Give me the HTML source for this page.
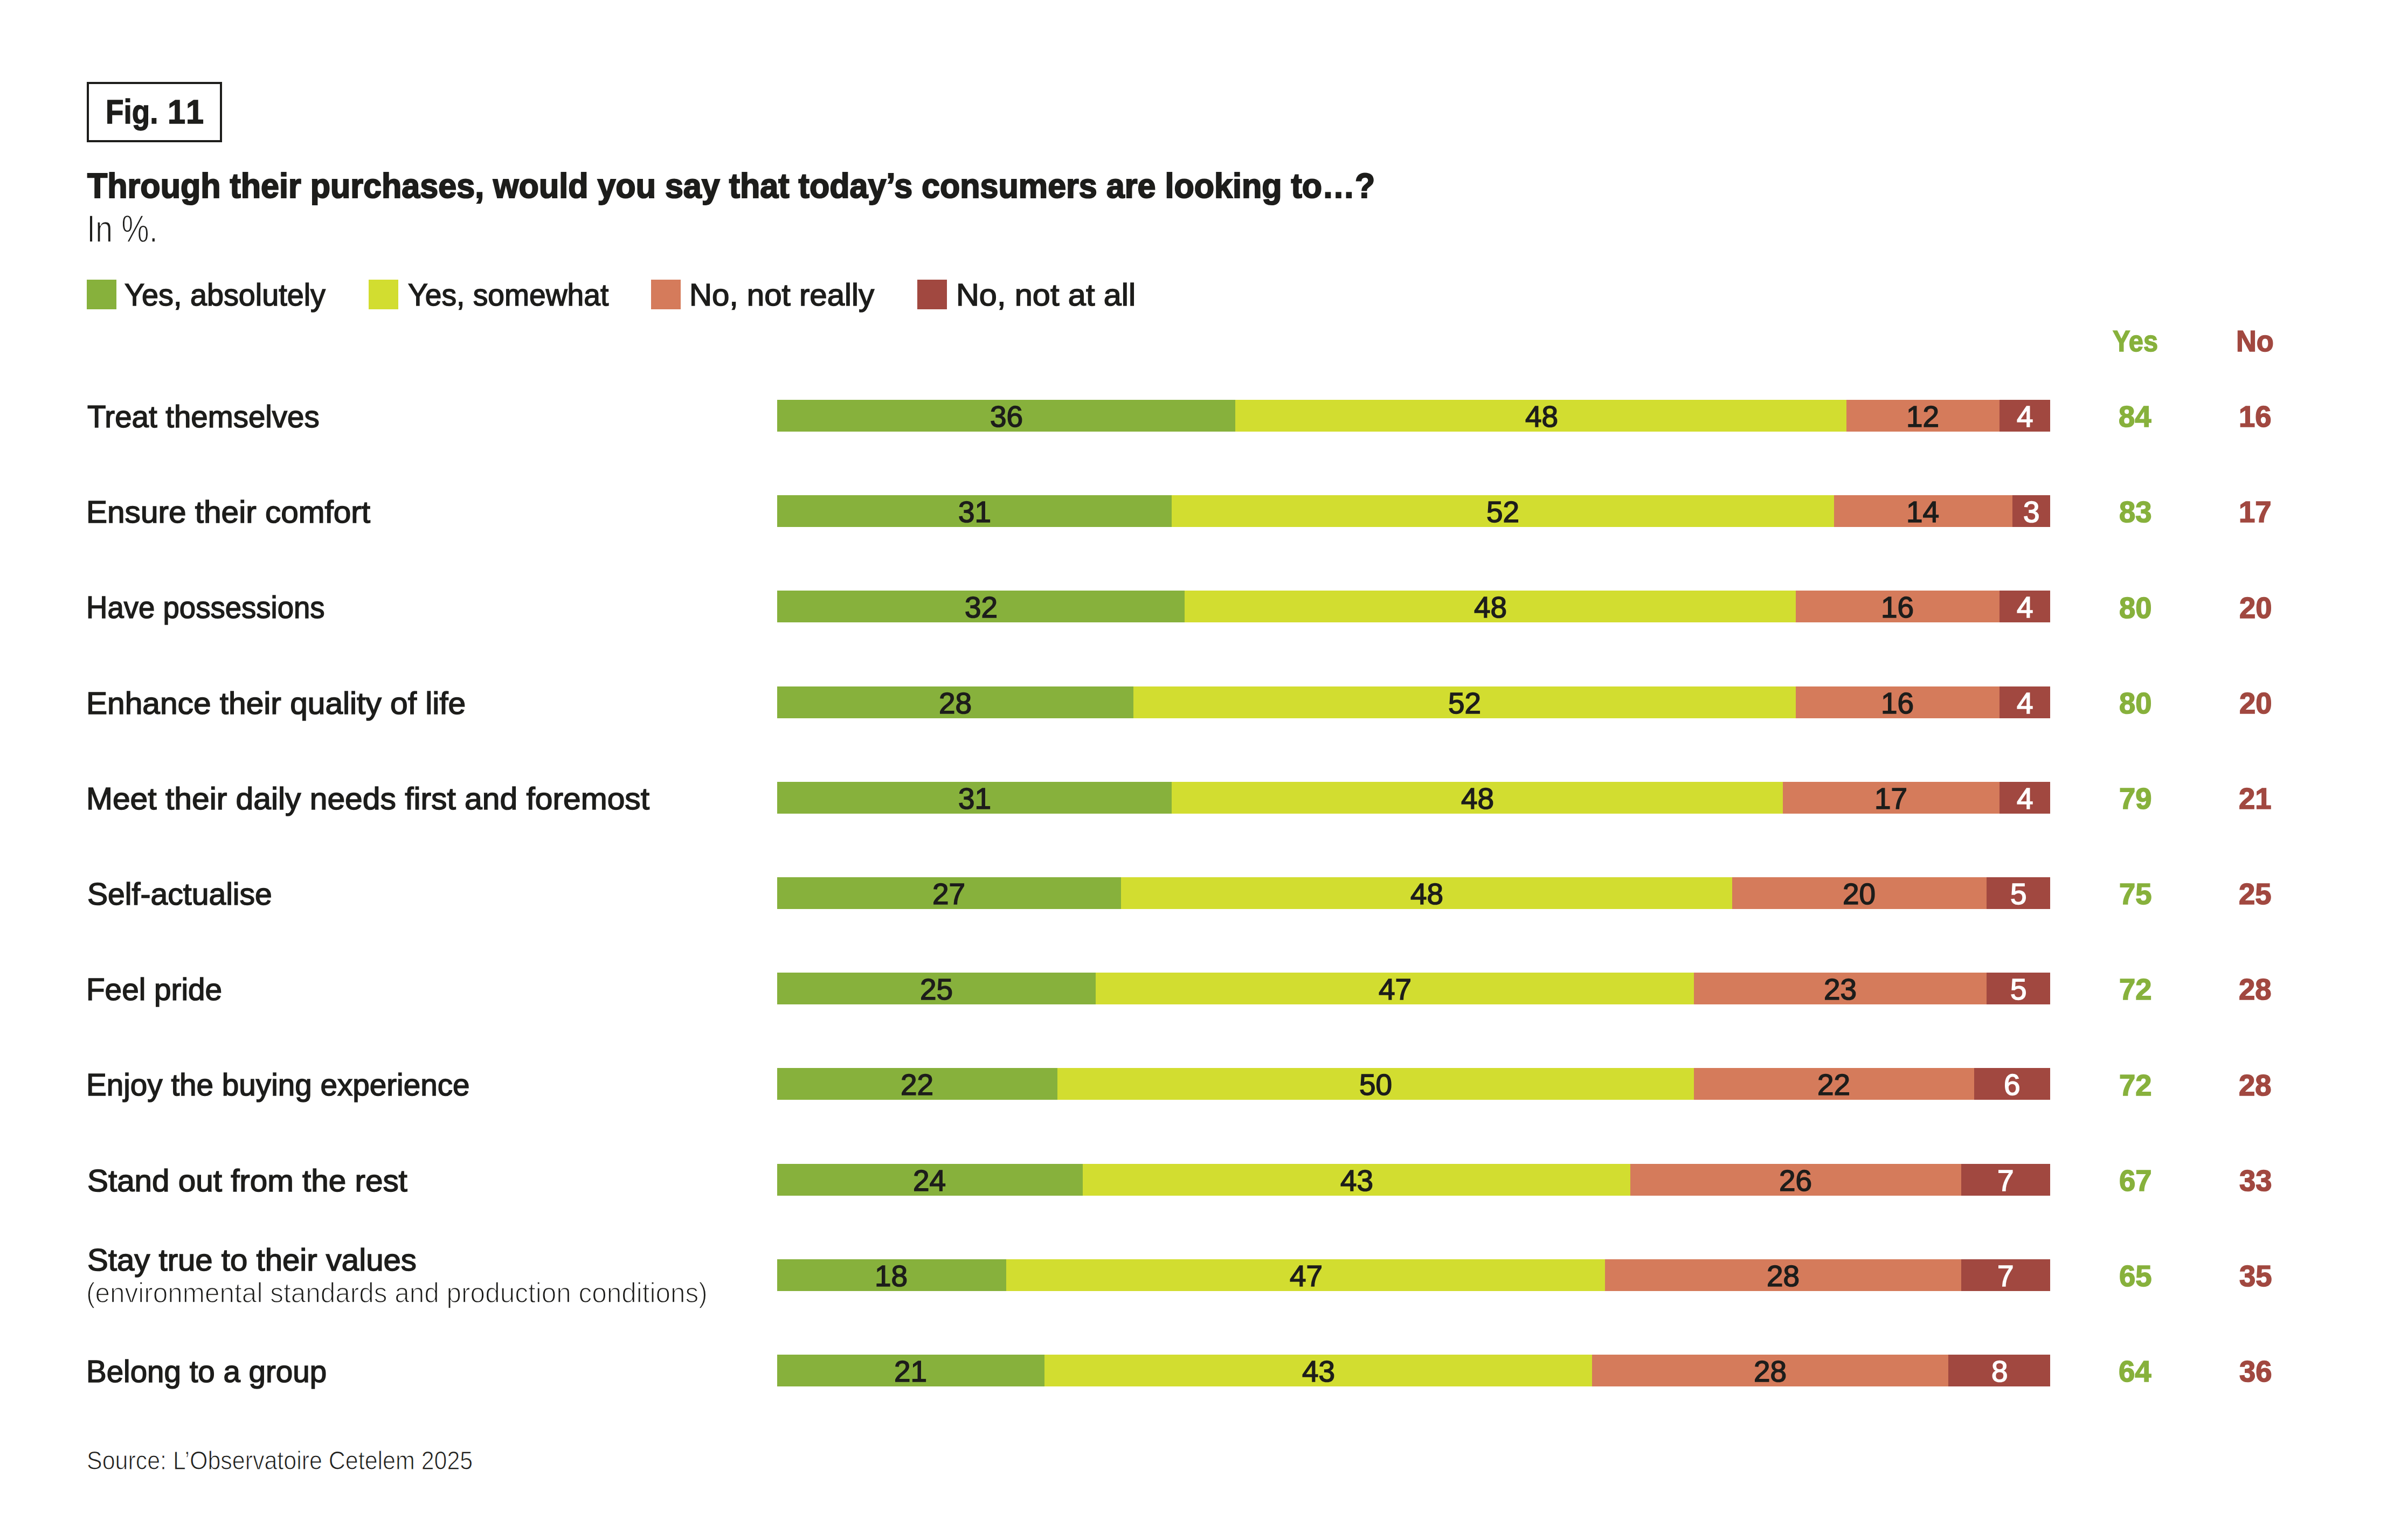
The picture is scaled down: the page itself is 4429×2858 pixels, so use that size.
<!DOCTYPE html>
<html><head><meta charset="utf-8"><title>Fig. 11</title>
<style>
html,body{margin:0;padding:0;background:#fff;}
body{width:4429px;height:2858px;position:relative;overflow:hidden;font-family:"Liberation Sans",sans-serif;}
.t{position:absolute;white-space:nowrap;line-height:1;transform-origin:0 0;display:block;}
.r{position:absolute;}
.box{position:absolute;left:161px;top:152px;width:251px;height:112px;box-sizing:border-box;border:4px solid #1d1d1b;}
</style></head><body>
<div class="box"></div>
<div class="r" style="left:1442.00px;top:742.00px;width:850.46px;height:59.00px;background:#87b13c"></div>
<div class="r" style="left:2292.46px;top:742.00px;width:1133.95px;height:59.00px;background:#d2dd30"></div>
<div class="r" style="left:3426.42px;top:742.00px;width:283.49px;height:59.00px;background:#d57b5b"></div>
<div class="r" style="left:3709.90px;top:742.00px;width:94.50px;height:59.00px;background:#a14840"></div>
<div class="r" style="left:1442.00px;top:919.20px;width:732.34px;height:59.00px;background:#87b13c"></div>
<div class="r" style="left:2174.34px;top:919.20px;width:1228.45px;height:59.00px;background:#d2dd30"></div>
<div class="r" style="left:3402.79px;top:919.20px;width:330.74px;height:59.00px;background:#d57b5b"></div>
<div class="r" style="left:3733.53px;top:919.20px;width:70.87px;height:59.00px;background:#a14840"></div>
<div class="r" style="left:1442.00px;top:1096.40px;width:755.97px;height:59.00px;background:#87b13c"></div>
<div class="r" style="left:2197.97px;top:1096.40px;width:1133.95px;height:59.00px;background:#d2dd30"></div>
<div class="r" style="left:3331.92px;top:1096.40px;width:377.98px;height:59.00px;background:#d57b5b"></div>
<div class="r" style="left:3709.90px;top:1096.40px;width:94.50px;height:59.00px;background:#a14840"></div>
<div class="r" style="left:1442.00px;top:1273.60px;width:661.47px;height:59.00px;background:#87b13c"></div>
<div class="r" style="left:2103.47px;top:1273.60px;width:1228.45px;height:59.00px;background:#d2dd30"></div>
<div class="r" style="left:3331.92px;top:1273.60px;width:377.98px;height:59.00px;background:#d57b5b"></div>
<div class="r" style="left:3709.90px;top:1273.60px;width:94.50px;height:59.00px;background:#a14840"></div>
<div class="r" style="left:1442.00px;top:1450.80px;width:732.34px;height:59.00px;background:#87b13c"></div>
<div class="r" style="left:2174.34px;top:1450.80px;width:1133.95px;height:59.00px;background:#d2dd30"></div>
<div class="r" style="left:3308.30px;top:1450.80px;width:401.61px;height:59.00px;background:#d57b5b"></div>
<div class="r" style="left:3709.90px;top:1450.80px;width:94.50px;height:59.00px;background:#a14840"></div>
<div class="r" style="left:1442.00px;top:1628.00px;width:637.85px;height:59.00px;background:#87b13c"></div>
<div class="r" style="left:2079.85px;top:1628.00px;width:1133.95px;height:59.00px;background:#d2dd30"></div>
<div class="r" style="left:3213.80px;top:1628.00px;width:472.48px;height:59.00px;background:#d57b5b"></div>
<div class="r" style="left:3686.28px;top:1628.00px;width:118.12px;height:59.00px;background:#a14840"></div>
<div class="r" style="left:1442.00px;top:1805.20px;width:590.60px;height:59.00px;background:#87b13c"></div>
<div class="r" style="left:2032.60px;top:1805.20px;width:1110.33px;height:59.00px;background:#d2dd30"></div>
<div class="r" style="left:3142.93px;top:1805.20px;width:543.35px;height:59.00px;background:#d57b5b"></div>
<div class="r" style="left:3686.28px;top:1805.20px;width:118.12px;height:59.00px;background:#a14840"></div>
<div class="r" style="left:1442.00px;top:1982.40px;width:519.73px;height:59.00px;background:#87b13c"></div>
<div class="r" style="left:1961.73px;top:1982.40px;width:1181.20px;height:59.00px;background:#d2dd30"></div>
<div class="r" style="left:3142.93px;top:1982.40px;width:519.73px;height:59.00px;background:#d57b5b"></div>
<div class="r" style="left:3662.66px;top:1982.40px;width:141.74px;height:59.00px;background:#a14840"></div>
<div class="r" style="left:1442.00px;top:2159.60px;width:566.98px;height:59.00px;background:#87b13c"></div>
<div class="r" style="left:2008.98px;top:2159.60px;width:1015.83px;height:59.00px;background:#d2dd30"></div>
<div class="r" style="left:3024.81px;top:2159.60px;width:614.22px;height:59.00px;background:#d57b5b"></div>
<div class="r" style="left:3639.03px;top:2159.60px;width:165.37px;height:59.00px;background:#a14840"></div>
<div class="r" style="left:1442.00px;top:2336.80px;width:425.23px;height:59.00px;background:#87b13c"></div>
<div class="r" style="left:1867.23px;top:2336.80px;width:1110.33px;height:59.00px;background:#d2dd30"></div>
<div class="r" style="left:2977.56px;top:2336.80px;width:661.47px;height:59.00px;background:#d57b5b"></div>
<div class="r" style="left:3639.03px;top:2336.80px;width:165.37px;height:59.00px;background:#a14840"></div>
<div class="r" style="left:1442.00px;top:2514.00px;width:496.10px;height:59.00px;background:#87b13c"></div>
<div class="r" style="left:1938.10px;top:2514.00px;width:1015.83px;height:59.00px;background:#d2dd30"></div>
<div class="r" style="left:2953.94px;top:2514.00px;width:661.47px;height:59.00px;background:#d57b5b"></div>
<div class="r" style="left:3615.41px;top:2514.00px;width:188.99px;height:59.00px;background:#a14840"></div>
<div class="r" style="left:160.70px;top:518.70px;width:55.00px;height:55.00px;background:#87b13c"></div>
<div class="r" style="left:683.80px;top:518.70px;width:55.00px;height:55.00px;background:#d2dd30"></div>
<div class="r" style="left:1208.10px;top:518.70px;width:55.00px;height:55.00px;background:#d57b5b"></div>
<div class="r" style="left:1701.70px;top:518.70px;width:55.00px;height:55.00px;background:#a14840"></div>
<div class="t" style="left:196.07px;top:175.87px;font-size:63px;font-weight:bold;color:#1d1d1b;transform:scaleX(0.8705);-webkit-text-stroke:1.4px #1d1d1b;">Fig.</div>
<div class="t" style="left:310.58px;top:175.87px;font-size:63px;font-weight:bold;color:#1d1d1b;transform:scaleX(0.9448);-webkit-text-stroke:1.4px #1d1d1b;">1</div>
<div class="t" style="left:344.88px;top:175.87px;font-size:63px;font-weight:bold;color:#1d1d1b;transform:scaleX(0.9448);-webkit-text-stroke:1.4px #1d1d1b;">1</div>
<div class="t" style="left:162.10px;top:311.78px;font-size:65px;font-weight:bold;color:#1d1d1b;transform:scaleX(0.9393);-webkit-text-stroke:2.2px #1d1d1b;">Through their purchases, would you say that today’s consumers are looking to…?</div>
<div class="t" style="left:160.73px;top:390.30px;font-size:70px;font-weight:normal;color:#1d1d1b;transform:scaleX(0.8265);-webkit-text-stroke:1.5px #fff;">In %.</div>
<div class="t" style="left:230.73px;top:518.77px;font-size:57.8px;font-weight:normal;color:#1d1d1b;transform:scaleX(0.9646);-webkit-text-stroke:1.6px #1d1d1b;">Yes, absolutely</div>
<div class="t" style="left:756.54px;top:518.77px;font-size:57.8px;font-weight:normal;color:#1d1d1b;transform:scaleX(0.9552);-webkit-text-stroke:1.6px #1d1d1b;">Yes, somewhat</div>
<div class="t" style="left:1279.45px;top:518.77px;font-size:57.8px;font-weight:normal;color:#1d1d1b;transform:scaleX(1.0074);-webkit-text-stroke:1.6px #1d1d1b;">No, not really</div>
<div class="t" style="left:1773.86px;top:518.77px;font-size:57.8px;font-weight:normal;color:#1d1d1b;transform:scaleX(1.0270);-webkit-text-stroke:1.6px #1d1d1b;">No, not at all</div>
<div class="t" style="left:3920.14px;top:605.00px;font-size:56px;font-weight:bold;color:#87b13c;transform:scaleX(0.8715);-webkit-text-stroke:1.6px #87b13c;">Yes</div>
<div class="t" style="left:4149.22px;top:605.00px;font-size:56px;font-weight:bold;color:#a14840;transform:scaleX(0.9363);-webkit-text-stroke:1.6px #a14840;">No</div>
<div class="t" style="left:161.72px;top:745.07px;font-size:57.8px;font-weight:normal;color:#1d1d1b;transform:scaleX(0.9762);-webkit-text-stroke:1.6px #1d1d1b;">Treat themselves</div>
<div class="t" style="left:159.73px;top:922.27px;font-size:57.8px;font-weight:normal;color:#1d1d1b;transform:scaleX(1.0130);-webkit-text-stroke:1.6px #1d1d1b;">Ensure their comfort</div>
<div class="t" style="left:160.04px;top:1099.47px;font-size:57.8px;font-weight:normal;color:#1d1d1b;transform:scaleX(0.9437);-webkit-text-stroke:1.6px #1d1d1b;">Have possessions</div>
<div class="t" style="left:159.82px;top:1276.67px;font-size:57.8px;font-weight:normal;color:#1d1d1b;transform:scaleX(1.0147);-webkit-text-stroke:1.6px #1d1d1b;">Enhance their quality of life</div>
<div class="t" style="left:159.81px;top:1453.87px;font-size:57.8px;font-weight:normal;color:#1d1d1b;transform:scaleX(1.0166);-webkit-text-stroke:1.6px #1d1d1b;">Meet their daily needs first and foremost</div>
<div class="t" style="left:161.61px;top:1631.07px;font-size:57.8px;font-weight:normal;color:#1d1d1b;transform:scaleX(0.9883);-webkit-text-stroke:1.6px #1d1d1b;">Self-actualise</div>
<div class="t" style="left:159.97px;top:1808.27px;font-size:57.8px;font-weight:normal;color:#1d1d1b;transform:scaleX(0.9806);-webkit-text-stroke:1.6px #1d1d1b;">Feel pride</div>
<div class="t" style="left:159.98px;top:1985.47px;font-size:57.8px;font-weight:normal;color:#1d1d1b;transform:scaleX(0.9798);-webkit-text-stroke:1.6px #1d1d1b;">Enjoy the buying experience</div>
<div class="t" style="left:161.58px;top:2162.67px;font-size:57.8px;font-weight:normal;color:#1d1d1b;transform:scaleX(1.0100);-webkit-text-stroke:1.6px #1d1d1b;">Stand out from the rest</div>
<div class="t" style="left:161.88px;top:2310.07px;font-size:57.8px;font-weight:normal;color:#1d1d1b;transform:scaleX(1.0061);-webkit-text-stroke:1.6px #1d1d1b;">Stay true to their values</div>
<div class="t" style="left:159.99px;top:2517.07px;font-size:57.8px;font-weight:normal;color:#1d1d1b;transform:scaleX(0.9776);-webkit-text-stroke:1.6px #1d1d1b;">Belong to a group</div>
<div class="t" style="left:159.83px;top:2374.46px;font-size:51.5px;font-weight:normal;color:#1d1d1b;transform:scaleX(0.9611);-webkit-text-stroke:1.5px #fff;">(environmental standards and production conditions)</div>
<div class="t" style="left:160.66px;top:2687.09px;font-size:47.5px;font-weight:normal;color:#1d1d1b;transform:scaleX(0.9042);-webkit-text-stroke:1px #fff;">Source: L’Observatoire Cetelem 2025</div>
<div class="t" style="left:1836.96px;top:746.02px;font-size:55.5px;font-weight:normal;color:#1d1d1b;transform:scaleX(0.9890);-webkit-text-stroke:1.6px #1d1d1b;">36</div>
<div class="t" style="left:2829.60px;top:746.02px;font-size:55.5px;font-weight:normal;color:#1d1d1b;transform:scaleX(0.9890);-webkit-text-stroke:1.6px #1d1d1b;">48</div>
<div class="t" style="left:3537.03px;top:746.02px;font-size:55.5px;font-weight:normal;color:#1d1d1b;transform:scaleX(0.9890);-webkit-text-stroke:1.6px #1d1d1b;">12</div>
<div class="t" style="left:3742.14px;top:746.02px;font-size:55.5px;font-weight:normal;color:#ffffff;transform:scaleX(0.9890);-webkit-text-stroke:1.6px #ffffff;">4</div>
<div class="t" style="left:3930.90px;top:745.20px;font-size:56px;font-weight:bold;color:#87b13c;transform:scaleX(0.9720);-webkit-text-stroke:1.6px #87b13c;">84</div>
<div class="t" style="left:4153.50px;top:745.20px;font-size:56px;font-weight:bold;color:#a14840;transform:scaleX(0.9720);-webkit-text-stroke:1.6px #a14840;">16</div>
<div class="t" style="left:1777.90px;top:923.22px;font-size:55.5px;font-weight:normal;color:#1d1d1b;transform:scaleX(0.9890);-webkit-text-stroke:1.6px #1d1d1b;">31</div>
<div class="t" style="left:2758.30px;top:923.22px;font-size:55.5px;font-weight:normal;color:#1d1d1b;transform:scaleX(0.9890);-webkit-text-stroke:1.6px #1d1d1b;">52</div>
<div class="t" style="left:3536.60px;top:923.22px;font-size:55.5px;font-weight:normal;color:#1d1d1b;transform:scaleX(0.9890);-webkit-text-stroke:1.6px #1d1d1b;">14</div>
<div class="t" style="left:3753.96px;top:923.22px;font-size:55.5px;font-weight:normal;color:#ffffff;transform:scaleX(0.9890);-webkit-text-stroke:1.6px #ffffff;">3</div>
<div class="t" style="left:3931.75px;top:922.40px;font-size:56px;font-weight:bold;color:#87b13c;transform:scaleX(0.9720);-webkit-text-stroke:1.6px #87b13c;">83</div>
<div class="t" style="left:4153.93px;top:922.40px;font-size:56px;font-weight:bold;color:#a14840;transform:scaleX(0.9720);-webkit-text-stroke:1.6px #a14840;">17</div>
<div class="t" style="left:1789.71px;top:1100.42px;font-size:55.5px;font-weight:normal;color:#1d1d1b;transform:scaleX(0.9890);-webkit-text-stroke:1.6px #1d1d1b;">32</div>
<div class="t" style="left:2735.10px;top:1100.42px;font-size:55.5px;font-weight:normal;color:#1d1d1b;transform:scaleX(0.9890);-webkit-text-stroke:1.6px #1d1d1b;">48</div>
<div class="t" style="left:3489.78px;top:1100.42px;font-size:55.5px;font-weight:normal;color:#1d1d1b;transform:scaleX(0.9890);-webkit-text-stroke:1.6px #1d1d1b;">16</div>
<div class="t" style="left:3742.14px;top:1100.42px;font-size:55.5px;font-weight:normal;color:#ffffff;transform:scaleX(0.9890);-webkit-text-stroke:1.6px #ffffff;">4</div>
<div class="t" style="left:3932.18px;top:1099.60px;font-size:56px;font-weight:bold;color:#87b13c;transform:scaleX(0.9720);-webkit-text-stroke:1.6px #87b13c;">80</div>
<div class="t" style="left:4154.78px;top:1099.60px;font-size:56px;font-weight:bold;color:#a14840;transform:scaleX(0.9720);-webkit-text-stroke:1.6px #a14840;">20</div>
<div class="t" style="left:1742.03px;top:1277.62px;font-size:55.5px;font-weight:normal;color:#1d1d1b;transform:scaleX(0.9890);-webkit-text-stroke:1.6px #1d1d1b;">28</div>
<div class="t" style="left:2687.42px;top:1277.62px;font-size:55.5px;font-weight:normal;color:#1d1d1b;transform:scaleX(0.9890);-webkit-text-stroke:1.6px #1d1d1b;">52</div>
<div class="t" style="left:3489.78px;top:1277.62px;font-size:55.5px;font-weight:normal;color:#1d1d1b;transform:scaleX(0.9890);-webkit-text-stroke:1.6px #1d1d1b;">16</div>
<div class="t" style="left:3742.14px;top:1277.62px;font-size:55.5px;font-weight:normal;color:#ffffff;transform:scaleX(0.9890);-webkit-text-stroke:1.6px #ffffff;">4</div>
<div class="t" style="left:3932.18px;top:1276.80px;font-size:56px;font-weight:bold;color:#87b13c;transform:scaleX(0.9720);-webkit-text-stroke:1.6px #87b13c;">80</div>
<div class="t" style="left:4154.78px;top:1276.80px;font-size:56px;font-weight:bold;color:#a14840;transform:scaleX(0.9720);-webkit-text-stroke:1.6px #a14840;">20</div>
<div class="t" style="left:1777.90px;top:1454.82px;font-size:55.5px;font-weight:normal;color:#1d1d1b;transform:scaleX(0.9890);-webkit-text-stroke:1.6px #1d1d1b;">31</div>
<div class="t" style="left:2711.48px;top:1454.82px;font-size:55.5px;font-weight:normal;color:#1d1d1b;transform:scaleX(0.9890);-webkit-text-stroke:1.6px #1d1d1b;">48</div>
<div class="t" style="left:3477.97px;top:1454.82px;font-size:55.5px;font-weight:normal;color:#1d1d1b;transform:scaleX(0.9890);-webkit-text-stroke:1.6px #1d1d1b;">17</div>
<div class="t" style="left:3742.14px;top:1454.82px;font-size:55.5px;font-weight:normal;color:#ffffff;transform:scaleX(0.9890);-webkit-text-stroke:1.6px #ffffff;">4</div>
<div class="t" style="left:3931.75px;top:1454.00px;font-size:56px;font-weight:bold;color:#87b13c;transform:scaleX(0.9720);-webkit-text-stroke:1.6px #87b13c;">79</div>
<div class="t" style="left:4154.35px;top:1454.00px;font-size:56px;font-weight:bold;color:#a14840;transform:scaleX(0.9720);-webkit-text-stroke:1.6px #a14840;">21</div>
<div class="t" style="left:1730.22px;top:1632.02px;font-size:55.5px;font-weight:normal;color:#1d1d1b;transform:scaleX(0.9890);-webkit-text-stroke:1.6px #1d1d1b;">27</div>
<div class="t" style="left:2616.98px;top:1632.02px;font-size:55.5px;font-weight:normal;color:#1d1d1b;transform:scaleX(0.9890);-webkit-text-stroke:1.6px #1d1d1b;">48</div>
<div class="t" style="left:3418.91px;top:1632.02px;font-size:55.5px;font-weight:normal;color:#1d1d1b;transform:scaleX(0.9890);-webkit-text-stroke:1.6px #1d1d1b;">20</div>
<div class="t" style="left:3730.33px;top:1632.02px;font-size:55.5px;font-weight:normal;color:#ffffff;transform:scaleX(0.9890);-webkit-text-stroke:1.6px #ffffff;">5</div>
<div class="t" style="left:3931.75px;top:1631.20px;font-size:56px;font-weight:bold;color:#87b13c;transform:scaleX(0.9720);-webkit-text-stroke:1.6px #87b13c;">75</div>
<div class="t" style="left:4154.35px;top:1631.20px;font-size:56px;font-weight:bold;color:#a14840;transform:scaleX(0.9720);-webkit-text-stroke:1.6px #a14840;">25</div>
<div class="t" style="left:1706.60px;top:1809.22px;font-size:55.5px;font-weight:normal;color:#1d1d1b;transform:scaleX(0.9890);-webkit-text-stroke:1.6px #1d1d1b;">25</div>
<div class="t" style="left:2557.92px;top:1809.22px;font-size:55.5px;font-weight:normal;color:#1d1d1b;transform:scaleX(0.9890);-webkit-text-stroke:1.6px #1d1d1b;">47</div>
<div class="t" style="left:3383.90px;top:1809.22px;font-size:55.5px;font-weight:normal;color:#1d1d1b;transform:scaleX(0.9890);-webkit-text-stroke:1.6px #1d1d1b;">23</div>
<div class="t" style="left:3730.33px;top:1809.22px;font-size:55.5px;font-weight:normal;color:#ffffff;transform:scaleX(0.9890);-webkit-text-stroke:1.6px #ffffff;">5</div>
<div class="t" style="left:3931.75px;top:1808.40px;font-size:56px;font-weight:bold;color:#87b13c;transform:scaleX(0.9720);-webkit-text-stroke:1.6px #87b13c;">72</div>
<div class="t" style="left:4154.35px;top:1808.40px;font-size:56px;font-weight:bold;color:#a14840;transform:scaleX(0.9720);-webkit-text-stroke:1.6px #a14840;">28</div>
<div class="t" style="left:1671.16px;top:1986.42px;font-size:55.5px;font-weight:normal;color:#1d1d1b;transform:scaleX(0.9890);-webkit-text-stroke:1.6px #1d1d1b;">22</div>
<div class="t" style="left:2521.63px;top:1986.42px;font-size:55.5px;font-weight:normal;color:#1d1d1b;transform:scaleX(0.9890);-webkit-text-stroke:1.6px #1d1d1b;">50</div>
<div class="t" style="left:3372.09px;top:1986.42px;font-size:55.5px;font-weight:normal;color:#1d1d1b;transform:scaleX(0.9890);-webkit-text-stroke:1.6px #1d1d1b;">22</div>
<div class="t" style="left:3718.09px;top:1986.42px;font-size:55.5px;font-weight:normal;color:#ffffff;transform:scaleX(0.9890);-webkit-text-stroke:1.6px #ffffff;">6</div>
<div class="t" style="left:3931.75px;top:1985.60px;font-size:56px;font-weight:bold;color:#87b13c;transform:scaleX(0.9720);-webkit-text-stroke:1.6px #87b13c;">72</div>
<div class="t" style="left:4154.35px;top:1985.60px;font-size:56px;font-weight:bold;color:#a14840;transform:scaleX(0.9720);-webkit-text-stroke:1.6px #a14840;">28</div>
<div class="t" style="left:1694.36px;top:2163.62px;font-size:55.5px;font-weight:normal;color:#1d1d1b;transform:scaleX(0.9890);-webkit-text-stroke:1.6px #1d1d1b;">24</div>
<div class="t" style="left:2487.05px;top:2163.62px;font-size:55.5px;font-weight:normal;color:#1d1d1b;transform:scaleX(0.9890);-webkit-text-stroke:1.6px #1d1d1b;">43</div>
<div class="t" style="left:3301.22px;top:2163.62px;font-size:55.5px;font-weight:normal;color:#1d1d1b;transform:scaleX(0.9890);-webkit-text-stroke:1.6px #1d1d1b;">26</div>
<div class="t" style="left:3706.28px;top:2163.62px;font-size:55.5px;font-weight:normal;color:#ffffff;transform:scaleX(0.9890);-webkit-text-stroke:1.6px #ffffff;">7</div>
<div class="t" style="left:3932.18px;top:2162.80px;font-size:56px;font-weight:bold;color:#87b13c;transform:scaleX(0.9720);-webkit-text-stroke:1.6px #87b13c;">67</div>
<div class="t" style="left:4154.78px;top:2162.80px;font-size:56px;font-weight:bold;color:#a14840;transform:scaleX(0.9720);-webkit-text-stroke:1.6px #a14840;">33</div>
<div class="t" style="left:1623.49px;top:2340.82px;font-size:55.5px;font-weight:normal;color:#1d1d1b;transform:scaleX(0.9890);-webkit-text-stroke:1.6px #1d1d1b;">18</div>
<div class="t" style="left:2392.55px;top:2340.82px;font-size:55.5px;font-weight:normal;color:#1d1d1b;transform:scaleX(0.9890);-webkit-text-stroke:1.6px #1d1d1b;">47</div>
<div class="t" style="left:3277.59px;top:2340.82px;font-size:55.5px;font-weight:normal;color:#1d1d1b;transform:scaleX(0.9890);-webkit-text-stroke:1.6px #1d1d1b;">28</div>
<div class="t" style="left:3706.28px;top:2340.82px;font-size:55.5px;font-weight:normal;color:#ffffff;transform:scaleX(0.9890);-webkit-text-stroke:1.6px #ffffff;">7</div>
<div class="t" style="left:3931.75px;top:2340.00px;font-size:56px;font-weight:bold;color:#87b13c;transform:scaleX(0.9720);-webkit-text-stroke:1.6px #87b13c;">65</div>
<div class="t" style="left:4154.78px;top:2340.00px;font-size:56px;font-weight:bold;color:#a14840;transform:scaleX(0.9720);-webkit-text-stroke:1.6px #a14840;">35</div>
<div class="t" style="left:1659.35px;top:2518.02px;font-size:55.5px;font-weight:normal;color:#1d1d1b;transform:scaleX(0.9890);-webkit-text-stroke:1.6px #1d1d1b;">21</div>
<div class="t" style="left:2416.18px;top:2518.02px;font-size:55.5px;font-weight:normal;color:#1d1d1b;transform:scaleX(0.9890);-webkit-text-stroke:1.6px #1d1d1b;">43</div>
<div class="t" style="left:3253.97px;top:2518.02px;font-size:55.5px;font-weight:normal;color:#1d1d1b;transform:scaleX(0.9890);-webkit-text-stroke:1.6px #1d1d1b;">28</div>
<div class="t" style="left:3694.90px;top:2518.02px;font-size:55.5px;font-weight:normal;color:#ffffff;transform:scaleX(0.9890);-webkit-text-stroke:1.6px #ffffff;">8</div>
<div class="t" style="left:3930.90px;top:2517.20px;font-size:56px;font-weight:bold;color:#87b13c;transform:scaleX(0.9720);-webkit-text-stroke:1.6px #87b13c;">64</div>
<div class="t" style="left:4154.78px;top:2517.20px;font-size:56px;font-weight:bold;color:#a14840;transform:scaleX(0.9720);-webkit-text-stroke:1.6px #a14840;">36</div>
</body></html>
